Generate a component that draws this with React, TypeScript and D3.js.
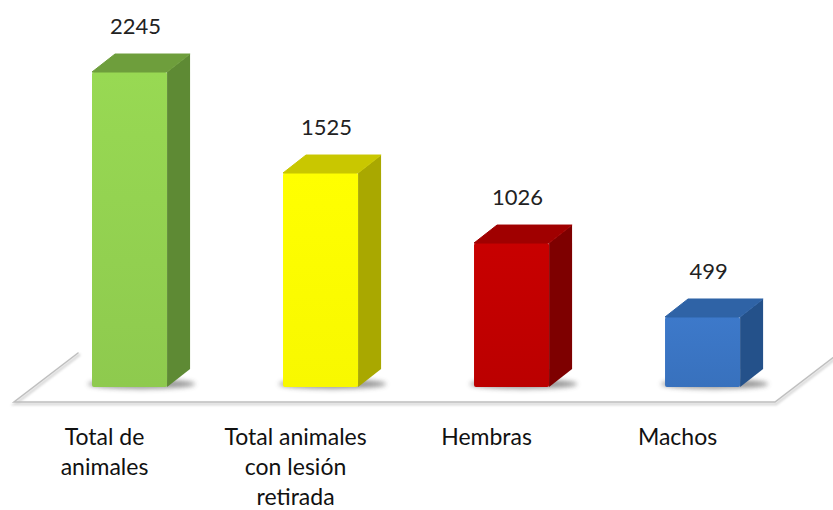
import React from "react";
import * as d3 from "d3";

const categories: string[][] = [
  ["Total de", "animales"],
  ["Total animales", "con lesión", "retirada"],
  ["Hembras"],
  ["Machos"],
];
const values: number[] = [2245, 1525, 1026, 499];
const frontColors = ["#92D050", "#FFFF00", "#C00000", "#3A74C2"];
const sideColors = ["#5E8A34", "#A9A800", "#7E0000", "#24518A"];
const topColors = ["#6E9E3C", "#C9C700", "#A00000", "#2F63A6"];

const W = 833;
const H = 510;
const FONT = "Lato, 'Open Sans', sans-serif";

export default function App() {
  const baseY = 387;
  const x = d3
    .scaleBand<number>()
    .domain(d3.range(values.length))
    .range([34.7, 797.4])
    .paddingInner(0.607)
    .paddingOuter(0.3);
  const y = d3.scaleLinear().domain([0, 2245]).range([baseY, 72]);
  const dx = 23;
  const dy = -18;
  const bw = x.bandwidth();

  const floorFront = 402;
  const floorLeft = 14;
  const floorRight = 775;
  const floorDx = 64;
  const floorDy = -49;
  const floorPath = `M${floorLeft + floorDx},${floorFront + floorDy} L${floorLeft},${floorFront} L${floorRight},${floorFront} L${floorRight + floorDx},${floorFront + floorDy}`;

  return (
    <div style={{ position: "absolute", left: 0, top: 0, width: W, height: H, background: "#fff" }}>
      <svg width={W} height={H} style={{ display: "block" }}>
        <defs>
          <filter id="blur" x="-30%" y="-100%" width="160%" height="300%">
            <feGaussianBlur stdDeviation="2.5" />
          </filter>
          <filter id="lshadow" x="-5%" y="-50%" width="110%" height="200%">
            <feGaussianBlur stdDeviation="1" />
          </filter>
          {frontColors.map((c, i) => (
            <linearGradient key={i} id={`g${i}`} x1="0" y1="0" x2="0" y2="1">
              <stop offset="0" stopColor={d3.color(c)!.brighter(0.12).toString()} />
              <stop offset="1" stopColor={d3.color(c)!.darker(0.08).toString()} />
            </linearGradient>
          ))}
        </defs>
        <g fill="none" strokeLinecap="round">
          <path d={floorPath} stroke="#999" strokeWidth={3} opacity={0.35} filter="url(#lshadow)" transform="translate(1,2)" />
          <path d={floorPath} stroke="#BFBFBF" strokeWidth={1.5} />
        </g>
        {values.map((v, i) => {
          const x0 = x(i)!;
          const yt = y(v);
          return (
            <g key={i}>
              <ellipse cx={x0 + bw / 2 + 12} cy={baseY - 3} rx={bw / 2 + 16} ry={5} fill="#444" opacity={0.55} filter="url(#blur)" />
              <rect x={x0} y={yt} width={bw} height={baseY - yt} fill={`url(#g${i})`} rx={2} />
              <path
                d={`M${x0 + bw},${yt} L${x0 + bw + dx},${yt + dy} L${x0 + bw + dx},${baseY + dy} L${x0 + bw},${baseY} Z`}
                fill={sideColors[i]}
              />
              <path
                d={`M${x0},${yt} L${x0 + dx},${yt + dy} L${x0 + bw + dx},${yt + dy} L${x0 + bw},${yt} Z`}
                fill={topColors[i]}
                stroke={topColors[i]}
                strokeWidth={1}
                strokeLinejoin="round"
              />
              <text
                x={x0 + bw / 2 + 6}
                y={yt + dy - 20}
                textAnchor="middle"
                fontFamily={FONT}
                fontSize={22}
                fill="#222"
              >
                {v}
              </text>
              {categories[i].map((line, j) => (
                <text
                  key={j}
                  x={x0 + bw / 2 - 25}
                  y={445 + j * 30}
                  textAnchor="middle"
                  fontFamily={FONT}
                  fontSize={23}
                  fill="#111"
                >
                  {line}
                </text>
              ))}
            </g>
          );
        })}
      </svg>
    </div>
  );
}
